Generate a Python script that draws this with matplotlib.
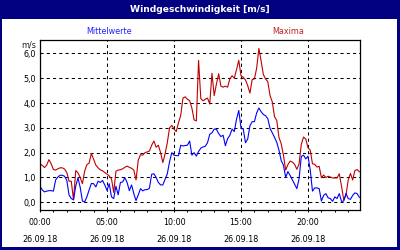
import numpy as np
import matplotlib; matplotlib.use('Agg')
import matplotlib.pyplot as plt
from matplotlib.patches import Rectangle

plt.rcParams.update({'font.family': 'DejaVu Sans', 'font.size': 5.5})

# 10-minute values, 26.09.18 00:00 .. 23:50
maxima = [1.55, 1.49, 1.40, 1.50, 1.72, 1.55, 1.32, 1.30, 1.35, 1.39, 1.39, 1.34,
          1.20, 0.85, 0.85, 0.10, 1.28, 1.19, 1.00, 0.75, 1.26, 1.52, 1.58, 1.97,
          1.73, 1.50, 1.39, 1.31, 1.27, 1.20, 1.14, 1.06, 0.95, 0.40, 1.25, 1.30,
          1.31, 1.35, 1.41, 1.46, 1.41, 1.37, 1.30, 0.90, 1.70, 1.92, 1.90, 2.00,
          2.03, 2.07, 2.30, 2.47, 2.22, 2.30, 2.00, 1.60, 1.95, 2.40, 3.00, 3.10,
          2.95, 2.85, 3.20, 3.50, 4.20, 4.25, 4.15, 4.10, 3.80, 3.32, 3.28, 5.72,
          4.18, 4.09, 4.15, 4.20, 3.96, 5.20, 4.30, 4.77, 5.18, 4.68, 4.64, 4.68,
          4.64, 4.97, 5.10, 5.00, 5.35, 5.72, 5.10, 5.04, 4.93, 4.70, 4.40, 4.95,
          4.97, 5.40, 6.20, 5.70, 5.15, 4.97, 4.86, 4.30, 4.05, 3.45, 3.30, 2.61,
          2.36, 1.90, 1.30, 1.52, 1.66, 1.62, 1.53, 1.33, 1.55, 2.34, 2.63, 2.55,
          2.20, 2.10, 1.55, 1.53, 1.42, 1.45, 0.99, 1.10, 1.00, 1.05, 1.02, 0.98,
          0.98, 0.98, 1.15, 0.65, 0.10, 0.28, 0.90, 1.16, 0.90, 1.28, 1.32, 1.23]
mittel = [0.65, 0.50, 0.42, 0.45, 0.47, 0.47, 0.45, 0.90, 1.02, 1.09, 1.09, 1.05,
          0.88, 0.30, 0.15, 0.10, 0.65, 0.99, 0.60, 0.05, 0.02, 0.22, 0.50, 0.76,
          0.75, 0.62, 0.85, 0.80, 0.88, 0.70, 0.48, 0.75, 0.22, 0.15, 0.65, 0.30,
          0.80, 0.82, 0.99, 0.80, 0.47, 0.70, 0.35, 0.07, 0.30, 0.55, 0.46, 0.51,
          0.51, 0.57, 1.13, 1.15, 1.00, 0.80, 0.70, 0.70, 0.93, 1.15, 1.63, 2.00,
          1.90, 1.88, 1.88, 2.30, 2.27, 2.29, 2.30, 2.47, 1.90, 2.00, 1.86, 2.05,
          2.18, 2.23, 2.26, 2.40, 2.74, 2.80, 2.95, 2.94, 2.77, 2.65, 2.70, 2.28,
          2.56, 2.70, 2.95, 2.85, 3.35, 3.70, 3.00, 2.95, 2.40, 2.55, 3.08, 3.25,
          3.25, 3.60, 3.80, 3.65, 3.54, 3.49, 3.37, 2.98, 2.80, 2.62, 2.42, 2.10,
          1.68, 1.50, 1.00, 1.24, 1.08, 0.90, 0.72, 0.55, 0.95, 1.85, 1.90, 1.75,
          1.86, 1.30, 0.45, 0.58, 0.58, 0.55, 0.05, 0.28, 0.35, 0.18, 0.15, 0.04,
          0.22, 0.15, 0.35, 0.04, 0.05, 0.36, 0.15, 0.12, 0.28, 0.38, 0.35, 0.20]
hours = np.arange(len(maxima)) / 6.0
xticks = [0, 5, 10, 15, 20]
xlabels = ['00:00\n26.09.18', '05:00\n26.09.18', '10:00\n26.09.18',
           '15:00\n26.09.18', '20:00\n26.09.18']
yticks = [0, 1, 2, 3, 4, 5, 6]
ylabels = ['0,0', '1,0', '2,0', '3,0', '4,0', '5,0', '6,0']

navy = '#000080'
fig = plt.figure(figsize=(4, 2.5), dpi=100, facecolor=navy)
fig.patches.append(Rectangle((2/400, 3/250), 395/400, 228/250, transform=fig.transFigure,
                             facecolor='white', edgecolor='none', zorder=-5))
fig.text(0.5, 1 - 9.5/250, 'Windgeschwindigkeit [m/s]', color='white', fontweight='bold',
         fontsize=6.6, ha='center', va='center')
fig.text(109/400, 1 - 31/250, 'Mittelwerte', color='#2020ff', fontsize=5.8, ha='center', va='center')
fig.text(288/400, 1 - 31/250, 'Maxima', color='#c02020', fontsize=5.8, ha='center', va='center')
fig.text(36/400, 1 - 45/250, 'm/s', fontsize=5.8, ha='right', va='center', color='#222222')

ax = fig.add_axes([40/400, 1 - 210/250, 320/400, 169.5/250], zorder=2)
ax.plot(hours, maxima, color='#c00000', lw=0.8)
ax.plot(hours, mittel, color='#0000ff', lw=0.8)
ax.set_xlim(0, 23.88)
ax.set_ylim(-0.31, 6.52)
ax.set_xticks(xticks)
ax.set_xticklabels(xlabels, fontsize=5.8)
ax.set_xticks(np.arange(0, 24, 1), minor=True)
ax.set_yticks(yticks)
ax.set_yticklabels(ylabels, fontsize=5.8)
for lab in ax.get_xticklabels():
    lab.set_linespacing(2.1)
ax.tick_params(axis='x', which='both', direction='out', length=1.6, width=0.72, pad=4.5)
ax.tick_params(axis='y', length=0, pad=3)
ax.grid(True, which='major', color='black', linestyle=(0, (3, 3)), linewidth=0.75)
for s in ax.spines.values():
    s.set_linewidth(0.9)
plt.savefig('out.png', dpi=100, facecolor=navy)
